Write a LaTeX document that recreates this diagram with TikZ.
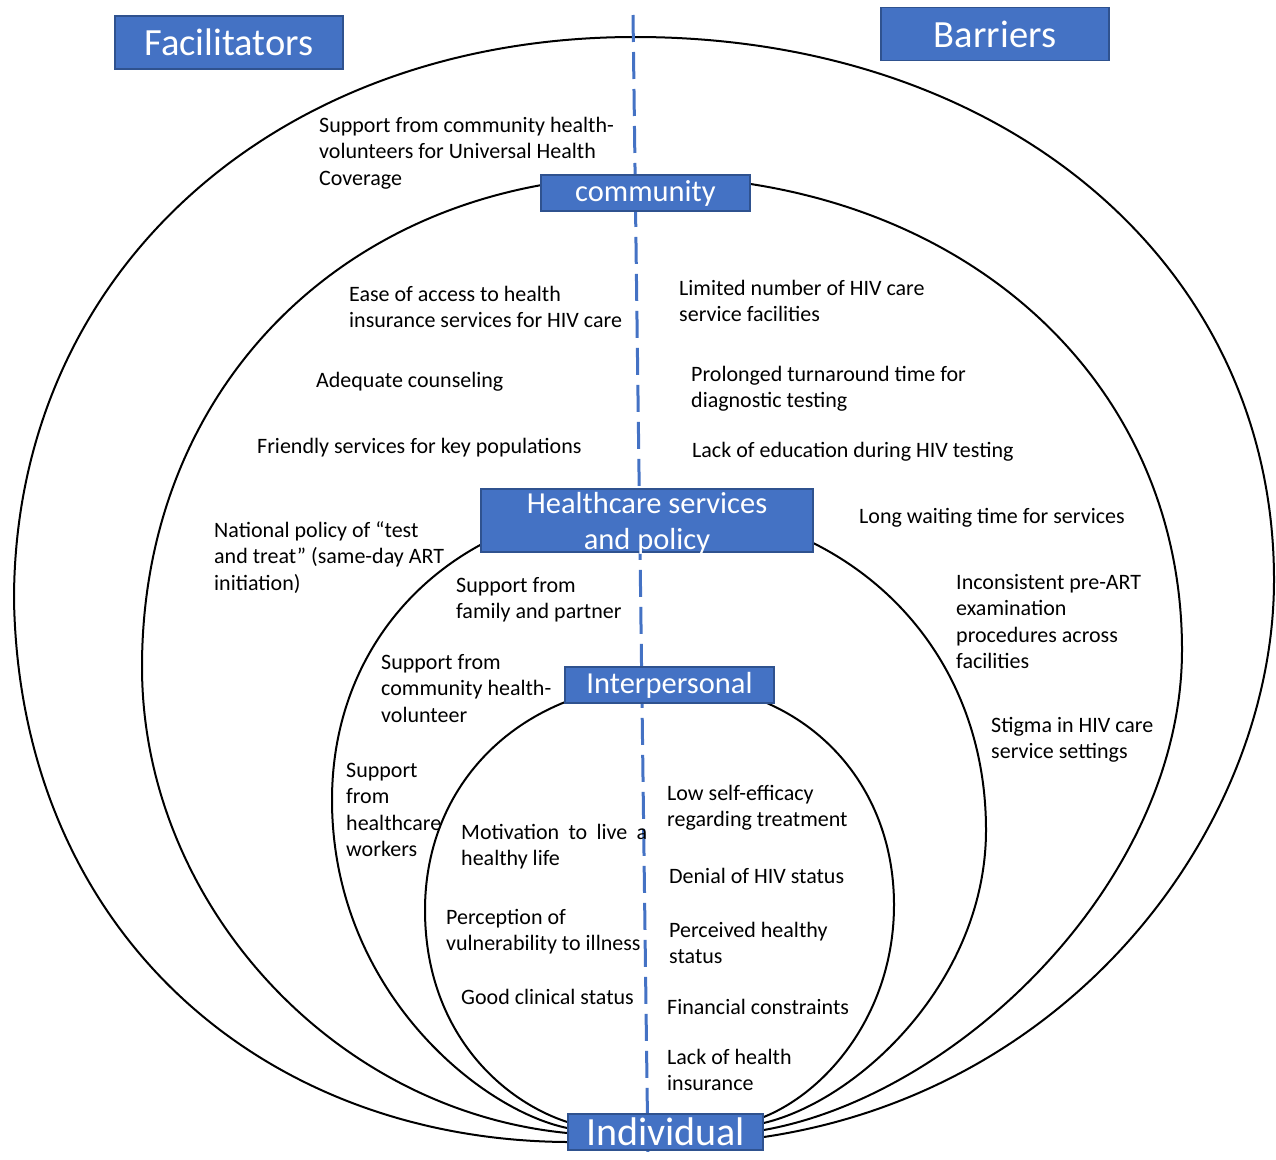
\documentclass[tikz,border=0pt]{standalone}
\usepackage{fontspec}
\setmainfont{Carlito}
\usetikzlibrary{calc,backgrounds}
\definecolor{boxblue}{HTML}{4472C4}
\definecolor{boxedge}{HTML}{2F528F}

\begin{document}
\begin{tikzpicture}[x=1pt, y=-1pt,
  lvl/.style={draw=boxedge, line width=1.5pt, fill=boxblue, text=white, inner sep=0pt, align=center,
    font=\fontsize{30.5}{36}\selectfont},
  head/.style={lvl, minimum width=228pt, minimum height=53pt, font=\fontsize{38.5}{44}\selectfont},
  item/.style={anchor=base west, inner sep=0pt, align=left, font=\fontsize{22}{26.5}\selectfont},
  ring/.style={line width=2pt, line join=round},
  divider/.style={boxblue, line width=3pt, dash pattern=on 27pt off 10pt}]
\useasboundingbox (0,0) rectangle (1276,1159);

% --- titoli ---
\node[head] (fac) at (229,42.5) {Facilitators};
\node[head] (bar) at (995,34) {Barriers};

% --- livelli ---
\node[lvl, minimum width=209pt, minimum height=36pt] (comm)  at (645.5,193) {community};
\node[lvl, minimum width=332pt, minimum height=63pt, text depth=0pt] (hcs) at (647,520.5) {Healthcare services\\and policy};
\node[lvl, minimum width=209pt, minimum height=36pt] (inter) at (669.5,685) {Interpersonal};
\node[lvl, minimum width=195pt, minimum height=36pt, font=\fontsize{40}{44}\selectfont] (ind) at (665.5,1132) {Individual};

% --- anelli (da Individual a Individual) e linea divisoria ---
\coordinate (dtop) at (633,15);
\coordinate (dbot) at (648,1159);
\begin{scope}[on background layer]
\draw[ring] ($(ind.west)+(0,10)$) .. controls (260,1140) and (20,930) .. (14,600)
  .. controls (14,273) and (275,37) .. (635,37) .. controls (1006,37) and (1274,265) .. (1274,580)
  .. controls (1274,820) and (1080,1090) .. ($(ind.east)+(0,5)$);
\draw[ring] ($(ind.west)+(0,1)$) .. controls (330,1110) and (142,900) .. (142,667)
  .. controls (142,382) and (353,176) .. (645,176) .. controls (956,176) and (1182,375) .. (1182,650)
  .. controls (1182,880) and (960,1095) .. ($(ind.east)+(0,-2)$);
\draw[ring] ($(ind.west)+(0,-4)$) .. controls (480,1110) and (332,990) .. (332,800)
  .. controls (332,629) and (463,505) .. (645,505) .. controls (843,505) and (986,641) .. (986,830)
  .. controls (986,980) and (860,1100) .. ($(ind.east)+(0,-9)$);
\draw[ring] ($(ind.west)+(0,-10)$) .. controls (500,1100) and (425,1030) .. (425,910)
  .. controls (425,778) and (527,683) .. (668,683) .. controls (799,683) and (894,776) .. (894,905)
  .. controls (894,1010) and (830,1090) .. ($(ind.east)+(0,-15)$);
\draw[divider] (dtop) -- (dbot);
\end{scope}

% --- fattori facilitanti (base = ultima riga) ---
\node[item] (chvuhc) at (319,185) {Support from community health-\\volunteers for Universal Health\\Coverage};
\node[item] (insur)  at (349,327.5) {Ease of access to health\\insurance services for HIV care};
\node[item] (couns)  at (316,387) {Adequate counseling};
\node[item] (keypop) at (257,453) {Friendly services for key populations};
\node[item] (policy) at (214,590) {National policy of “test\\and treat” (same-day ART\\initiation)};
\node[item] (family) at (456,618.5) {Support from\\family and partner};
\node[item] (chv)    at (381,722) {Support from\\community health-\\volunteer};
\node[item] (hcw)    at (346,856.5) {Support\\from\\healthcare\\workers};
\node[item] (motiv)  at (461,865.5) {\makebox[186pt][s]{Motivation to live a}\\healthy life};
\node[item] (vuln)   at (446,950.5) {Perception of\\vulnerability to illness};
\node[item] (clin)   at (461,1004) {Good clinical status};

% --- barriere ---
\node[item] (facil)  at (679,321.5) {Limited number of HIV care\\service facilities};
\node[item] (turn)   at (691,407.5) {Prolonged turnaround time for\\diagnostic testing};
\node[item] (educ)   at (692,457) {Lack of education during HIV testing};
\node[item] (wait)   at (859,523) {Long waiting time for services};
\node[item] (preart) at (956,668.5) {Inconsistent pre-ART\\examination\\procedures across\\facilities};
\node[item] (stigma) at (991,758.5) {Stigma in HIV care\\service settings};
\node[item] (selfef) at (667,826.5) {Low self-efficacy\\regarding treatment};
\node[item] (denial) at (669,883) {Denial of HIV status};
\node[item] (percv)  at (669,963.5) {Perceived healthy\\status};
\node[item] (money)  at (667,1014) {Financial constraints};
\node[item] (noins)  at (667,1090.5) {Lack of health\\insurance};
\end{tikzpicture}
\end{document}
